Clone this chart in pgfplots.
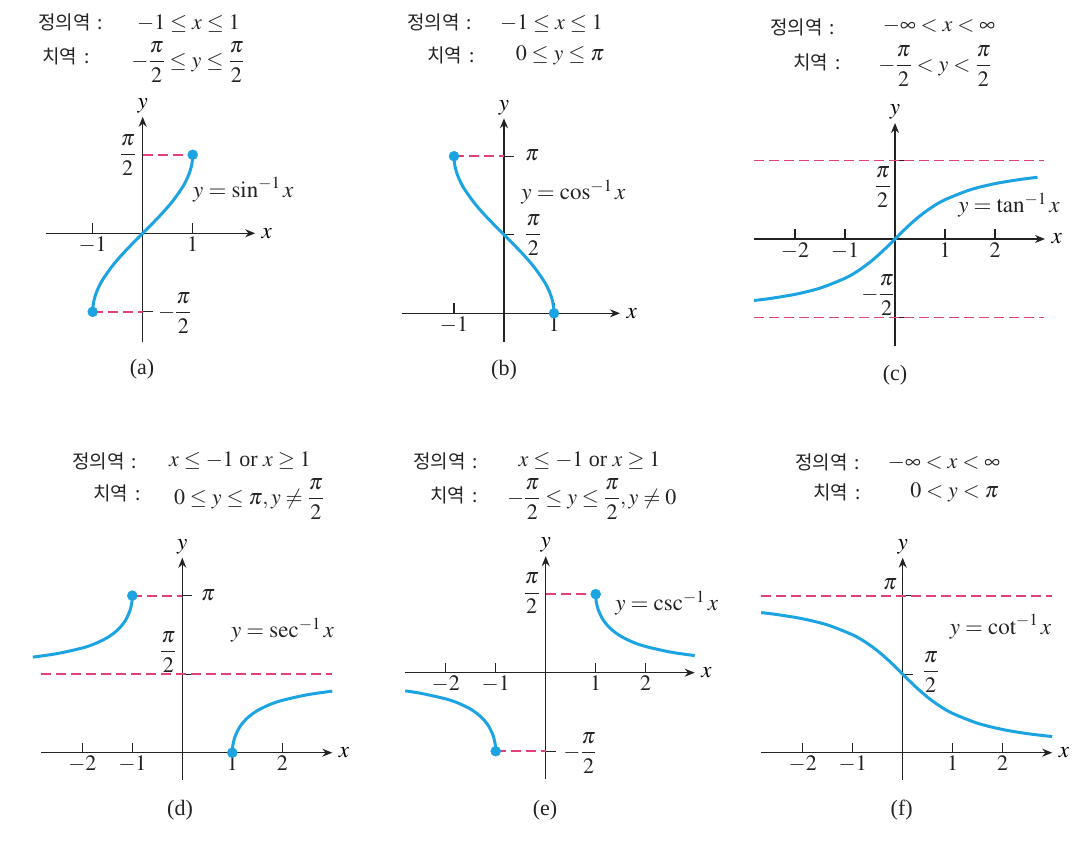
\documentclass[border=0pt]{standalone}
\usepackage{amsmath}
\usepackage{mathptmx}
\usepackage[no-math]{fontspec}
\setmainfont{Liberation Serif}
\newfontfamily\kr{Noto Sans CJK KR}
\usepackage{pgfplots}
\pgfplotsset{compat=1.18}
\usetikzlibrary{arrows.meta}
\definecolor{cblue}{RGB}{28,163,226}
\definecolor{dpink}{RGB}{226,64,125}
\definecolor{axc}{RGB}{35,35,35}
\newcommand{\tf}{\fontsize{23}{27}\selectfont}
\newcommand{\mf}{\fontsize{22}{26}\selectfont}
\newcommand{\kf}{\kr\fontsize{19}{22}\selectfont}
\newcommand{\lf}{\fontsize{22}{26}\selectfont}
\newcommand{\K}[1]{#1\hspace{7pt}:}
\pgfplotsset{
  myax/.style={axis lines=middle, x=50pt, y=50pt, anchor=origin, clip=false,
    axis line style={line width=1.3pt, color=axc, -{Stealth[length=10pt,width=8pt]}},
    major tick length=10pt,
    tick style={line width=1.3pt, color=axc},
    xtick align=inside, ytick align=inside,
    xticklabel style={font=\lf, text=axc},
    yticklabels={},
    xlabel={$x$}, ylabel={$y$},
    every axis x label/.style={at={(current axis.right of origin)}, anchor=west, font=\tf, xshift=3pt},
    every axis y label/.style={at={(current axis.above origin)}, anchor=south, font=\tf},
  },
  curve/.style={color=cblue, line width=3pt, smooth, no marks},
  asym/.style={color=dpink, line width=1.9pt, dash pattern=on 10pt off 5pt, no marks},
  dot/.style={only marks, mark=*, mark size=5pt, color=cblue, mark options={fill=cblue, draw=cblue}},
}
\begin{document}
\begin{tikzpicture}
\useasboundingbox (0pt,0pt) rectangle (1089pt,857pt);
% ---------- (a) arcsin
\begin{axis}[myax, at={(142.7pt,623.7pt)}, xmin=-1.93, xmax=2.25, ymin=-2.17, ymax=2.33,
  xtick={-1,1}, xticklabels={$-1$,$1$}, ytick={-1.5708,1.5708}]
\addplot[asym] coordinates {(-1,-1.5708) (0,-1.5708)};
\addplot[asym] coordinates {(0,1.5708) (1,1.5708)};
\addplot[curve] coordinates {(-1,-1.5708) (-0.995,-1.4708) (-0.98,-1.3705) (-0.95,-1.2532) (-0.9,-1.1198) (-0.8,-0.9273) (-0.6,-0.6435) (-0.4,-0.4115) (-0.2,-0.2014) (0,0) (0.2,0.2014) (0.4,0.4115) (0.6,0.6435) (0.8,0.9273) (0.9,1.1198) (0.95,1.2532) (0.98,1.3705) (0.995,1.4708) (1,1.5708)};
\addplot[dot] coordinates {(-1,-1.5708) (1,1.5708)};
\end{axis}
% ---------- (b) arccos
\begin{axis}[myax, at={(504pt,543.7pt)}, xmin=-2.04, xmax=2.32, ymin=-0.57, ymax=3.9,
  xtick={-1,1}, xticklabels={$-1$,$1$}, ytick={1.5708,3.1416}]
\addplot[asym] coordinates {(-1,3.1416) (0,3.1416)};
\addplot[curve] coordinates {(-1,3.1416) (-0.995,3.0416) (-0.98,2.9413) (-0.95,2.8240) (-0.9,2.6906) (-0.8,2.4981) (-0.6,2.2143) (-0.4,1.9823) (-0.2,1.7722) (0,1.5708) (0.2,1.3694) (0.4,1.1593) (0.6,0.9273) (0.8,0.6435) (0.9,0.4510) (0.95,0.3176) (0.98,0.2003) (0.995,0.1000) (1,0)};
\addplot[dot] coordinates {(-1,3.1416) (1,0)};
\end{axis}
% ---------- (c) arctan
\begin{axis}[myax, at={(895pt,618pt)}, xmin=-2.82, xmax=3.0, ymin=-2.14, ymax=2.32,
  xtick={-2,-1,1,2}, xticklabels={$-2$,$-1$,$1$,$2$}, ytick={-1.5708,1.5708}]
\addplot[asym] coordinates {(-2.82,1.5708) (2.97,1.5708)};
\addplot[asym] coordinates {(-2.82,-1.5708) (2.97,-1.5708)};
\addplot[curve] coordinates {(-2.82,-1.2300) (-2.5,-1.1903) (-2,-1.1071) (-1.5,-0.9828) (-1,-0.7854) (-0.75,-0.6435) (-0.5,-0.4636) (-0.25,-0.2450) (0,0) (0.25,0.2450) (0.5,0.4636) (0.75,0.6435) (1,0.7854) (1.5,0.9828) (2,1.1071) (2.5,1.1903) (2.85,1.2334)};
\end{axis}
% ---------- (d) arcsec
\begin{axis}[myax, at={(182.3pt,104.3pt)}, xmin=-2.83, xmax=3.0, ymin=-0.54, ymax=3.9,
  xtick={-2,-1,1,2}, xticklabels={$-2$,$-1$,$1$,$2$}, ytick={1.5708,3.1416}]
\addplot[asym] coordinates {(-2.83,1.5708) (3.0,1.5708)};
\addplot[asym] coordinates {(-1,3.1416) (0,3.1416)};
\addplot[curve] coordinates {(-2.99,1.9117) (-2.5,1.9823) (-2,2.0944) (-1.75,2.1790) (-1.5,2.3005) (-1.3,2.4485) (-1.15,2.6251) (-1.05,2.8318) (-1.01,3.0008) (-1.002,3.0783) (-1,3.1416)};
\addplot[curve] coordinates {(1,0) (1.002,0.0633) (1.01,0.1408) (1.05,0.3098) (1.15,0.5166) (1.3,0.6931) (1.5,0.8411) (1.75,0.9626) (2,1.0472) (2.5,1.1593) (3.0,1.2310)};
\addplot[dot] coordinates {(-1,3.1416) (1,0)};
\end{axis}
% ---------- (e) arccsc
\begin{axis}[myax, at={(545.7pt,184.3pt)}, xmin=-2.81, xmax=2.98, ymin=-2.13, ymax=2.33,
  xtick={-2,-1,1,2}, xticklabels={$-2$,$-1$,$1$,$2$}, ytick={-1.5708,1.5708}]
\addplot[asym] coordinates {(0,1.5708) (1,1.5708)};
\addplot[asym] coordinates {(-1,-1.5708) (0,-1.5708)};
\addplot[curve] coordinates {(1,1.5708) (1.002,1.5075) (1.01,1.4300) (1.05,1.2610) (1.15,1.0542) (1.3,0.8777) (1.5,0.7297) (1.75,0.6082) (2,0.5236) (2.5,0.4115) (2.98,0.3422)};
\addplot[curve] coordinates {(-2.81,-0.3638) (-2.5,-0.4115) (-2,-0.5236) (-1.75,-0.6082) (-1.5,-0.7297) (-1.3,-0.8777) (-1.15,-1.0542) (-1.05,-1.2610) (-1.01,-1.4300) (-1.002,-1.5075) (-1,-1.5708)};
\addplot[dot] coordinates {(1,1.5708) (-1,-1.5708)};
\end{axis}
% ---------- (f) arccot
\begin{axis}[myax, at={(902.7pt,104.3pt)}, xmin=-2.84, xmax=2.99, ymin=-0.54, ymax=3.9,
  xtick={-2,-1,1,2}, xticklabels={$-2$,$-1$,$1$,$2$}, ytick={1.5708,3.1416}]
\addplot[asym] coordinates {(-2.84,3.1416) (2.99,3.1416)};
\addplot[curve] coordinates {(-2.83,2.8019) (-2.5,2.7611) (-2,2.6779) (-1.5,2.5536) (-1,2.3562) (-0.75,2.2143) (-0.5,2.0344) (-0.25,1.8158) (0,1.5708) (0.25,1.3258) (0.5,1.1071) (0.75,0.9273) (1,0.7854) (1.5,0.5880) (2,0.4636) (2.5,0.3805) (2.99,0.3228)};
\end{axis}
% ---------- text: titles
\begin{scope}[every node/.style={text=axc, inner sep=0pt}]
% (a)
\node[anchor=west, font=\kf] at (38pt,835pt) {\K{정의역}};
\node[font=\mf] at (188.5pt,833.5pt) {$-1\le x\le 1$};
\node[anchor=west, font=\kf] at (42pt,801pt) {\K{치역}};
\node[font=\mf] at (188pt,795pt) {$-\dfrac{\pi}{2}\le y\le \dfrac{\pi}{2}$};
% (b)
\node[anchor=west, font=\kf] at (407pt,835pt) {\K{정의역}};
\node[font=\mf] at (551.5pt,833.5pt) {$-1\le x\le 1$};
\node[anchor=west, font=\kf] at (427pt,802pt) {\K{치역}};
\node[font=\mf] at (560pt,802pt) {$0\le y\le \pi$};
% (c)
\node[anchor=west, font=\kf] at (770pt,830pt) {\K{정의역}};
\node[font=\mf] at (939pt,830.5pt) {$-\infty< x< \infty$};
\node[anchor=west, font=\kf] at (793pt,795pt) {\K{치역}};
\node[font=\mf] at (935pt,791pt) {$-\dfrac{\pi}{2}< y< \dfrac{\pi}{2}$};
% (d)
\node[anchor=west, font=\kf] at (72pt,396pt) {\K{정의역}};
\node[font=\mf] at (240pt,396.5pt) {$x\le -1$ or $x\ge 1$};
\node[anchor=west, font=\kf] at (93pt,364pt) {\K{치역}};
\node[font=\mf] at (249pt,358pt) {$0\le y\le \pi, y\ne \dfrac{\pi}{2}$};
% (e)
\node[anchor=west, font=\kf] at (413pt,396pt) {\K{정의역}};
\node[font=\mf] at (589.5pt,396.5pt) {$x\le -1$ or $x\ge 1$};
\node[anchor=west, font=\kf] at (430pt,362pt) {\K{치역}};
\node[font=\mf] at (591.7pt,358pt) {$-\dfrac{\pi}{2}\le y\le \dfrac{\pi}{2}, y\ne 0$};
% (f)
\node[anchor=west, font=\kf] at (795pt,395pt) {\K{정의역}};
\node[font=\mf] at (944pt,394pt) {$-\infty< x< \infty$};
\node[anchor=west, font=\kf] at (813pt,365pt) {\K{치역}};
\node[font=\mf] at (954.5pt,365pt) {$0< y< \pi$};
% ---------- y tick labels, curve labels, panel letters
\node[font=\lf] at (127.7pt,702pt) {$\dfrac{\pi}{2}$};
\node[font=\lf, anchor=west] at (158pt,544pt) {$-\dfrac{\pi}{2}$};
\node[font=\tf, anchor=west] at (193pt,667pt) {$y=\sin^{-1}x$};
\node[font=\lf] at (142pt,488pt) {(a)};
\node[font=\lf, anchor=west] at (525pt,702pt) {$\pi$};
\node[font=\lf, anchor=west] at (525pt,622pt) {$\dfrac{\pi}{2}$};
\node[font=\tf] at (573.5pt,665pt) {$y=\cos^{-1}x$};
\node[font=\lf] at (504pt,487pt) {(b)};
\node[font=\lf] at (882.7pt,670pt) {$\dfrac{\pi}{2}$};
\node[font=\lf] at (878pt,562pt) {$-\dfrac{\pi}{2}$};
\node[font=\tf] at (1009pt,652pt) {$y=\tan^{-1}x$};
\node[font=\lf] at (895pt,482pt) {(c)};
\node[font=\lf] at (208pt,262pt) {$\pi$};
\node[font=\lf] at (168.3pt,205.3pt) {$\dfrac{\pi}{2}$};
\node[font=\tf] at (282.5pt,227pt) {$y=\sec^{-1}x$};
\node[font=\lf] at (180pt,47pt) {(d)};
\node[font=\lf] at (531.7pt,263.7pt) {$\dfrac{\pi}{2}$};
\node[font=\lf] at (580pt,104pt) {$-\dfrac{\pi}{2}$};
\node[font=\tf] at (666.7pt,253.7pt) {$y=\csc^{-1}x$};
\node[font=\lf] at (545pt,47pt) {(e)};
\node[font=\lf] at (890pt,273pt) {$\pi$};
\node[font=\lf] at (930.7pt,185.3pt) {$\dfrac{\pi}{2}$};
\node[font=\tf] at (1000.5pt,230.3pt) {$y=\cot^{-1}x$};
\node[font=\lf] at (901.7pt,47pt) {(f)};
\end{scope}
\end{tikzpicture}
\end{document}
